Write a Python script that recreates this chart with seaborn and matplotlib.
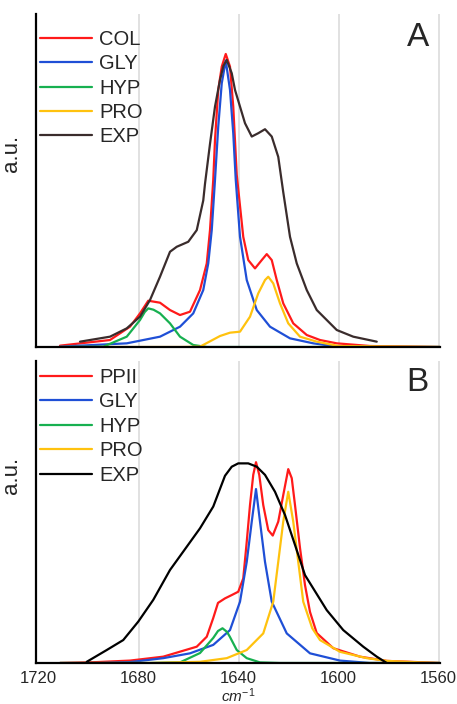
import pandas as pd
import matplotlib.pyplot as plt
import seaborn as sns

# ---- panel A (collagen) : wavenumber (cm-1) / intensity (a.u.) ----
a_exp_wn = [1703.4, 1691.4, 1684.7, 1679.4, 1675.4, 1671.4, 1667.4, 1664.7, 1660.1, 1656.7,
            1654.1, 1653.4, 1651.4, 1649.4, 1647.4, 1646.0, 1644.7, 1642.7, 1641.4, 1639.4,
            1637.4, 1634.7, 1632.1, 1629.4, 1626.7, 1624.1, 1622.1, 1619.4, 1616.7, 1612.7,
            1608.7, 1600.7, 1594.1, 1584.7]
a_exp_i = [0.016, 0.031, 0.056, 0.091, 0.141, 0.211, 0.286, 0.301, 0.316, 0.351,
           0.440, 0.490, 0.610, 0.722, 0.802, 0.845, 0.862, 0.822, 0.772, 0.722,
           0.672, 0.632, 0.642, 0.654, 0.632, 0.571, 0.465, 0.331, 0.251, 0.171,
           0.111, 0.051, 0.031, 0.016]

a_col_wn = [1711.4, 1691.4, 1683.4, 1679.4, 1676.1, 1671.4, 1667.4, 1663.4, 1659.4, 1655.4,
            1652.7, 1651.4, 1650.1, 1649.4, 1648.1, 1646.7, 1645.1, 1643.4, 1642.1, 1640.7,
            1638.1, 1636.1, 1633.4, 1630.7, 1628.7, 1626.7, 1624.7, 1622.1, 1618.1, 1612.7,
            1607.4, 1600.7, 1587.4, 1559.4]
a_col_i = [0.004, 0.021, 0.061, 0.101, 0.139, 0.133, 0.111, 0.096, 0.106, 0.171,
           0.251, 0.351, 0.502, 0.622, 0.772, 0.842, 0.880, 0.842, 0.722, 0.517,
           0.331, 0.261, 0.236, 0.261, 0.279, 0.261, 0.201, 0.131, 0.071, 0.036,
           0.021, 0.011, 0.003, 0.0]

a_gly_wn = [1711.4, 1684.7, 1671.4, 1663.4, 1658.1, 1654.1, 1652.1, 1650.7, 1649.4, 1648.1,
            1646.7, 1645.1, 1643.4, 1642.1, 1641.1, 1639.4, 1636.7, 1632.7, 1627.4, 1619.4,
            1610.1, 1599.4, 1559.4]
a_gly_i = [0.001, 0.011, 0.031, 0.061, 0.101, 0.171, 0.251, 0.351, 0.502, 0.662,
           0.792, 0.860, 0.772, 0.642, 0.502, 0.331, 0.201, 0.111, 0.061, 0.026,
           0.011, 0.0, 0.0]

a_hyp_wn = [1711.4, 1694.1, 1684.7, 1679.4, 1677.5, 1676.1, 1674.0, 1671.4, 1667.4, 1663.4,
            1658.1, 1652.7, 1559.4]
a_hyp_i = [0.0, 0.001, 0.031, 0.081, 0.105, 0.116, 0.112, 0.101, 0.071, 0.031,
           0.006, 0.0, 0.0]

a_pro_wn = [1711.4, 1663.4, 1655.4, 1647.4, 1643.4, 1639.4, 1635.4, 1632.1, 1629.4, 1628.1,
            1626.1, 1623.4, 1620.1, 1615.4, 1608.7, 1600.0, 1559.4]
a_pro_i = [0.0, 0.0, 0.001, 0.033, 0.043, 0.046, 0.091, 0.161, 0.201, 0.211,
           0.191, 0.131, 0.071, 0.031, 0.016, 0.003, 0.0]

# ---- panel B (gelatin) ----
b_exp_wn = [1700.7, 1692.7, 1686.1, 1680.1, 1674.1, 1667.4, 1660.7, 1655.4, 1650.1, 1645.4,
            1642.7, 1640.1, 1636.1, 1632.7, 1629.4, 1625.4, 1621.4, 1617.4, 1613.4, 1604.7,
            1598.1, 1590.1, 1584.7, 1580.7]
b_exp_i = [0.004, 0.043, 0.076, 0.137, 0.209, 0.308, 0.385, 0.446, 0.518, 0.620,
           0.650, 0.661, 0.661, 0.650, 0.623, 0.567, 0.490, 0.391, 0.291, 0.175,
           0.109, 0.054, 0.021, 0.0]

b_ppii_wn = [1711.4, 1696.7, 1683.4, 1670.1, 1656.7, 1652.7, 1650.1, 1648.2, 1645.4, 1642.7,
             1640.1, 1638.1, 1636.7, 1635.4, 1634.1, 1633.0, 1631.7, 1630.1, 1628.1, 1626.3,
             1624.1, 1622.1, 1620.1, 1618.7, 1617.4, 1615.4, 1613.4, 1611.4, 1608.7, 1602.1,
             1591.4, 1580.7, 1559.4]
b_ppii_i = [0.0, 0.003, 0.008, 0.021, 0.054, 0.087, 0.149, 0.199, 0.214, 0.225,
            0.236, 0.280, 0.402, 0.523, 0.623, 0.665, 0.623, 0.523, 0.440, 0.422,
            0.468, 0.556, 0.642, 0.612, 0.523, 0.381, 0.258, 0.169, 0.099, 0.049,
            0.021, 0.007, 0.0]

b_gly_wn = [1711.4, 1695.4, 1683.4, 1670.1, 1659.4, 1650.1, 1643.4, 1639.4, 1636.7, 1634.7,
            1633.0, 1631.4, 1629.4, 1626.7, 1620.7, 1611.4, 1599.4, 1587.4, 1559.4]
b_gly_i = [0.0, 0.0, 0.003, 0.016, 0.032, 0.060, 0.109, 0.203, 0.335, 0.468,
           0.576, 0.468, 0.335, 0.203, 0.098, 0.032, 0.008, 0.0, 0.0]

b_hyp_wn = [1711.4, 1675.4, 1663.4, 1655.4, 1650.1, 1648.2, 1646.4, 1644.6, 1643.4, 1640.7,
            1636.7, 1631.4, 1623.4, 1559.4]
b_hyp_i = [0.0, 0.0, 0.002, 0.033, 0.083, 0.106, 0.115, 0.103, 0.086, 0.043,
           0.016, 0.002, 0.0, 0.0]

b_pro_wn = [1711.4, 1675.4, 1655.4, 1644.7, 1636.7, 1630.1, 1626.1, 1624.1, 1622.1, 1620.1,
            1618.1, 1616.1, 1614.1, 1610.5, 1607.4, 1599.4, 1588.7, 1580.7, 1567.4, 1559.4]
b_pro_i = [0.0, 0.0, 0.004, 0.016, 0.043, 0.098, 0.203, 0.335, 0.468, 0.567,
           0.468, 0.335, 0.203, 0.115, 0.076, 0.037, 0.016, 0.007, 0.002, 0.0]

x_ticks = [1720, 1680, 1640, 1600, 1560]


def long_form(parts):
    frames = []
    for name, wn, inten in parts:
        frames.append(pd.DataFrame({"wn": wn, "I": inten, "comp": name}))
    return pd.concat(frames, ignore_index=True)


df_a = long_form([("COL", a_col_wn, a_col_i), ("GLY", a_gly_wn, a_gly_i),
                  ("HYP", a_hyp_wn, a_hyp_i), ("PRO", a_pro_wn, a_pro_i),
                  ("EXP", a_exp_wn, a_exp_i)])
df_b = long_form([("PPII", b_ppii_wn, b_ppii_i), ("GLY", b_gly_wn, b_gly_i),
                  ("HYP", b_hyp_wn, b_hyp_i), ("PRO", b_pro_wn, b_pro_i),
                  ("EXP", b_exp_wn, b_exp_i)])

RED, BLUE, GREEN, GOLD = "#ff1a1a", "#1f4fd6", "#17b050", "#ffc20e"
pal_a = {"COL": RED, "GLY": BLUE, "HYP": GREEN, "PRO": GOLD, "EXP": "#3a2c2c"}
pal_b = {"PPII": RED, "GLY": BLUE, "HYP": GREEN, "PRO": GOLD, "EXP": "#000000"}

sns.set_theme(style="white")
plt.rcParams["font.family"] = ["Liberation Sans", "DejaVu Sans"]
plt.rcParams["mathtext.fontset"] = "custom"
plt.rcParams["mathtext.it"] = "Liberation Sans:italic"
plt.rcParams["mathtext.rm"] = "Liberation Sans"

fig = plt.figure(figsize=(4.57, 7.04), dpi=100)
ax_a = fig.add_axes([36 / 457, 1 - 347 / 704, 404 / 457, 333 / 704])
ax_b = fig.add_axes([36 / 457, 1 - 663 / 704, 404 / 457, 302 / 704])

for ax, df, pal, order, letter, lab_y, leg_y in [
        (ax_a, df_a, pal_a, ["COL", "GLY", "HYP", "PRO", "EXP"], "A", 0.58, 0.965),
        (ax_b, df_b, pal_b, ["PPII", "GLY", "HYP", "PRO", "EXP"], "B", 0.62, 0.99)]:
    sns.lineplot(data=df, x="wn", y="I", hue="comp", hue_order=order, palette=pal,
                 estimator=None, sort=True, linewidth=1.6, ax=ax)
    for ln in ax.get_lines():
        ln.set_solid_joinstyle("round")
    ax.set_xlim(1721.0, 1559.4)
    ax.set_ylim(0, 1.0)
    ax.set_xticks(x_ticks)
    ax.set_yticks([])
    ax.grid(axis="x", color="#dcdcdc", linewidth=1.2)
    ax.xaxis.get_gridlines()[0].set_visible(False)
    for s in ["top", "right"]:
        ax.spines[s].set_visible(False)
    for s in ["left", "bottom"]:
        ax.spines[s].set_color("black")
        ax.spines[s].set_linewidth(1.6)
    ax.set_ylabel("a.u.", fontsize=16, labelpad=0)
    ax.yaxis.set_label_coords(-0.035, lab_y)
    ax.tick_params(axis="x", length=0, labelsize=12, pad=6)
    ax.legend(loc="upper left", bbox_to_anchor=(0.0, leg_y), frameon=False,
              fontsize=14.5, handlelength=2.6, handletextpad=0.35,
              labelspacing=0.27, borderaxespad=0.0, borderpad=0.2)
    ax.text(0.945, 0.93, letter, transform=ax.transAxes, fontsize=24,
            ha="center", va="center")

ax_a.set_xlabel("")
ax_a.tick_params(axis="x", labelbottom=False)
ax_b.set_xlabel(r"$cm^{-1}$", fontsize=11, labelpad=0)

fig.savefig("out.png", dpi=100)
